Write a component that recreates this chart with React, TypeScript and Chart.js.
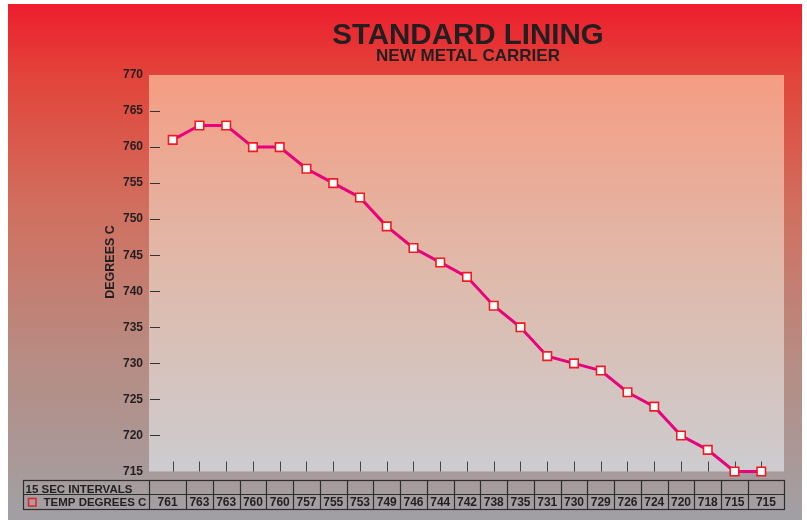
import React, { useEffect, useRef } from "react";
import { Chart, registerables } from "chart.js";

Chart.register(...registerables);

// ---- data ----
const TITLE = "STANDARD LINING";
const SUBTITLE = "NEW METAL CARRIER";
const Y_TITLE = "DEGREES C";
const ROW1_LABEL = "15 SEC INTERVALS";
const SERIES_LABEL = "TEMP DEGREES C";
const temps = [761, 763, 763, 760, 760, 757, 755, 753, 749, 746, 744, 742, 738, 735, 731, 730, 729, 726, 724, 720, 718, 715, 715];
const Y_MIN = 715;
const Y_MAX = 770;
const Y_STEP = 5;

const FONT = '"Liberation Sans", Arial, Helvetica, sans-serif';
const TEXT = "#231F20";

const decor = {
  id: "decor",
  beforeDraw(chart: any) {
    const { ctx, width, height, chartArea: ca } = chart;
    ctx.save();
    const g = ctx.createLinearGradient(0, 0, 0, height);
    g.addColorStop(0, "#EE1D2E");
    g.addColorStop(0.14, "#E2443A");
    g.addColorStop(0.4, "#D0705F");
    g.addColorStop(0.7, "#B68D84");
    g.addColorStop(1, "#A1A0A4");
    ctx.fillStyle = g;
    ctx.fillRect(0, 0, width, height);

    const pg = ctx.createLinearGradient(0, ca.top, 0, ca.bottom);
    pg.addColorStop(0, "#F59D83");
    pg.addColorStop(0.5, "#DFBAAB");
    pg.addColorStop(1, "#CCCCCF");
    ctx.fillStyle = pg;
    ctx.fillRect(ca.left, ca.top, ca.right - ca.left, ca.bottom - ca.top);

    const ys = chart.scales.y;
    const xs = chart.scales.x;
    ctx.strokeStyle = "#333";
    ctx.lineWidth = 1;
    for (let v = Y_MIN + Y_STEP; v < Y_MAX; v += Y_STEP) {
      const py = Math.round(ys.getPixelForValue(v)) + 0.5;
      ctx.beginPath();
      ctx.moveTo(ca.left + 1, py);
      ctx.lineTo(ca.left + 11, py);
      ctx.stroke();
    }
    ctx.strokeStyle = "#444";
    temps.forEach((_, i) => {
      const px = Math.round(xs.getPixelForValue(i)) + 0.5;
      ctx.beginPath();
      ctx.moveTo(px, ca.bottom - 10);
      ctx.lineTo(px, ca.bottom);
      ctx.stroke();
    });

    // titles
    const cx = (ca.left + ca.right) / 2 + 1.5;
    ctx.fillStyle = TEXT;
    ctx.textAlign = "center";
    ctx.textBaseline = "alphabetic";
    ctx.font = `bold 29.5px ${FONT}`;
    ctx.fillText(TITLE, cx, 39.5);
    ctx.font = `bold 17px ${FONT}`;
    ctx.fillText(SUBTITLE, cx, 57);

    // y title
    ctx.save();
    ctx.translate(103, 258);
    ctx.rotate(-Math.PI / 2);
    ctx.font = `bold 12.5px ${FONT}`;
    ctx.textBaseline = "middle";
    ctx.fillText(Y_TITLE, 0, 0);
    ctx.restore();
    ctx.restore();
  },
  afterDraw(chart: any) {
    const { ctx, chartArea: ca } = chart;
    const xs = chart.scales.x;
    const left = 15.5;
    const right = Math.round(ca.right) + 0.5;
    const top = 476.5;
    const mid = 490.5;
    const bottom = 505.5;
    ctx.save();
    ctx.strokeStyle = "#2E2E2E";
    ctx.lineWidth = 1.2;
    ctx.strokeRect(left, top, right - left, bottom - top);
    ctx.beginPath();
    ctx.moveTo(left, mid);
    ctx.lineTo(right, mid);
    ctx.stroke();
    const bounds: number[] = [ca.left];
    for (let i = 0; i < temps.length - 1; i++) {
      bounds.push((xs.getPixelForValue(i) + xs.getPixelForValue(i + 1)) / 2);
    }
    bounds.push(ca.right);
    bounds.slice(0, -1).forEach((b) => {
      const bx = Math.round(b) + 0.5;
      ctx.beginPath();
      ctx.moveTo(bx, top);
      ctx.lineTo(bx, bottom);
      ctx.stroke();
    });

    ctx.fillStyle = TEXT;
    ctx.textBaseline = "alphabetic";
    ctx.textAlign = "left";
    ctx.font = `bold 11.5px ${FONT}`;
    ctx.fillText(ROW1_LABEL, 17.5, 488.5);
    ctx.fillText(SERIES_LABEL, 35.5, 502);
    ctx.strokeStyle = "#ED1C24";
    ctx.lineWidth = 1.5;
    ctx.strokeRect(20.5, 494.5, 7.5, 7.5);

    ctx.textAlign = "center";
    ctx.font = `bold 12px ${FONT}`;
    temps.forEach((v, i) => {
      const c = (bounds[i] + bounds[i + 1]) / 2;
      ctx.fillText(String(v), c, 502);
    });
    ctx.restore();
  },
};

export default function App() {
  const ref = useRef<HTMLCanvasElement | null>(null);
  useEffect(() => {
    if (!ref.current) return;
    const chart = new Chart(ref.current, {
      type: "line",
      data: {
        datasets: [
          {
            label: SERIES_LABEL,
            data: temps.map((v, i) => ({ x: i, y: v })),
            borderColor: "#E6007E",
            borderWidth: 3,
            pointStyle: "rect",
            pointRadius: 6,
            pointBorderWidth: 1.6,
            pointBackgroundColor: "#FFFFFF",
            pointBorderColor: "#ED1C24",
            tension: 0,
            clip: false as any,
          },
        ],
      },
      options: {
        responsive: false,
        animation: false,
        layout: { padding: { top: 71, bottom: 48.5, right: 18, left: 0 } },
        plugins: {
          legend: { display: false },
          tooltip: { enabled: false },
          title: { display: false },
        },
        scales: {
          x: {
            type: "linear",
            min: -0.886,
            max: 22.85,
            display: false,
          },
          y: {
            min: Y_MIN,
            max: Y_MAX,
            grid: { display: false, drawTicks: false },
            border: { display: false },
            ticks: {
              stepSize: Y_STEP,
              padding: 6,
              color: TEXT,
              font: { family: FONT, size: 12, weight: "bold" },
            },
            afterFit: (s: any) => {
              s.width = 141;
            },
          },
        },
      },
      plugins: [decor],
    });
    return () => chart.destroy();
  }, []);
  return (
    <div style={{ position: "absolute", left: 8, top: 4, width: 794, height: 516 }}>
      <canvas ref={ref} width={794} height={516} style={{ display: "block" }} />
    </div>
  );
}
